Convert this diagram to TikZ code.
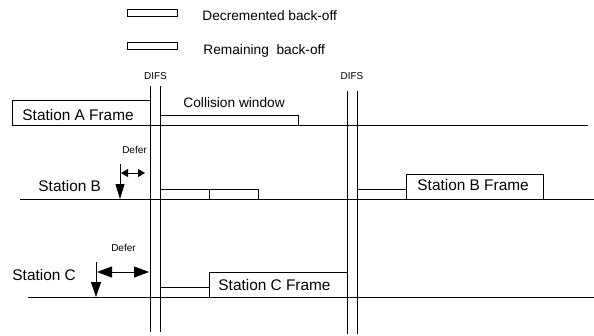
\documentclass[tikz,border=0pt]{standalone}
\usepackage{fontspec}
\setmainfont{Liberation Sans}
\usetikzlibrary{arrows.meta}
\begin{document}
\begin{tikzpicture}[x=1pt,y=-1pt,line width=0.9pt,
  big/.style={font=\fontsize{15.4}{18}\selectfont,inner sep=0pt},
  mid/.style={font=\fontsize{13.7}{16}\selectfont,inner sep=0pt},
  small/.style={font=\fontsize{10}{12}\selectfont,inner sep=0pt},
  slot/.style={draw,fill=white},
  tl/.style={draw},
  vl/.style={draw}]
\useasboundingbox (0,0) rectangle (594,335);
% legend
\draw[slot] (127,9) rectangle (177,16);
\node[mid,anchor=base west] (legdec) at (202,20) {Decremented back-off};
\draw[slot] (127,42) rectangle (177,49);
\node[mid,anchor=base west] (legrem) at (203,54) {Remaining\ \ back-off};
% DIFS labels
\node[small,anchor=base] (difs1) at (155.5,79) {DIFS};
\node[small,anchor=base] (difs2) at (352,79) {DIFS};
% Station A
\draw[tl] (12,125) -- (588,125);
\draw[slot] (12,100.7) rectangle (150,125);
\node[big,anchor=base west] (fa) at (22,120) {Station A Frame};
\draw[slot] (160,115.7) rectangle (298,125);
\node[mid,anchor=base west] (cw) at (183,107) {Collision window};
% Station B
\draw[tl] (20,199) -- (594,199);
\node[big,anchor=base west] (sb) at (38,191) {Station B};
\node[small,anchor=base] (deferb) at (134.5,153) {Defer};
\draw[slot] (160,189) rectangle (209,199);
\draw[slot] (209,189) rectangle (258,199);
\draw (357,189) -- (406,189);
\draw[slot] (406,174) rectangle (543,199);
\node[big,anchor=base west] (fb) at (417,190) {Station B Frame};
\coordinate (bd1) at (120,164);
\coordinate (bd2) at (120,199);
\draw[-{Triangle[length=15pt,width=9pt]}] (bd1) -- (bd2);
\coordinate (bh1) at (121,173);
\coordinate (bh2) at (145,173);
\draw[{Triangle[length=7pt,width=8pt]}-{Triangle[length=7pt,width=8pt]}] (bh1) -- (bh2);
% Station C
\draw[tl] (28,297) -- (594,297);
\node[big,anchor=base west] (sc) at (12,280) {Station C};
\node[small,anchor=base] (deferc) at (123.5,251) {Defer};
\draw[slot] (160,287) rectangle (209,297);
\draw[slot] (209,272) rectangle (347,297);
\node[big,anchor=base west] (fc) at (218,290) {Station C Frame};
\coordinate (cd1) at (96,262);
\coordinate (cd2) at (96,297);
\draw[-{Triangle[length=15pt,width=10pt]}] (cd1) -- (cd2);
\coordinate (ch1) at (97,272);
\coordinate (ch2) at (149,272);
\draw[{Triangle[length=15pt,width=11pt]}-{Triangle[length=15pt,width=11pt]}] (ch1) -- (ch2);
% DIFS vertical lines
\draw[vl] (150,86) -- (150,332);
\draw[vl] (160,86) -- (160,332);
\draw[vl] (347,91) -- (347,334);
\draw[vl] (357,91) -- (357,334);
\end{tikzpicture}
\end{document}
